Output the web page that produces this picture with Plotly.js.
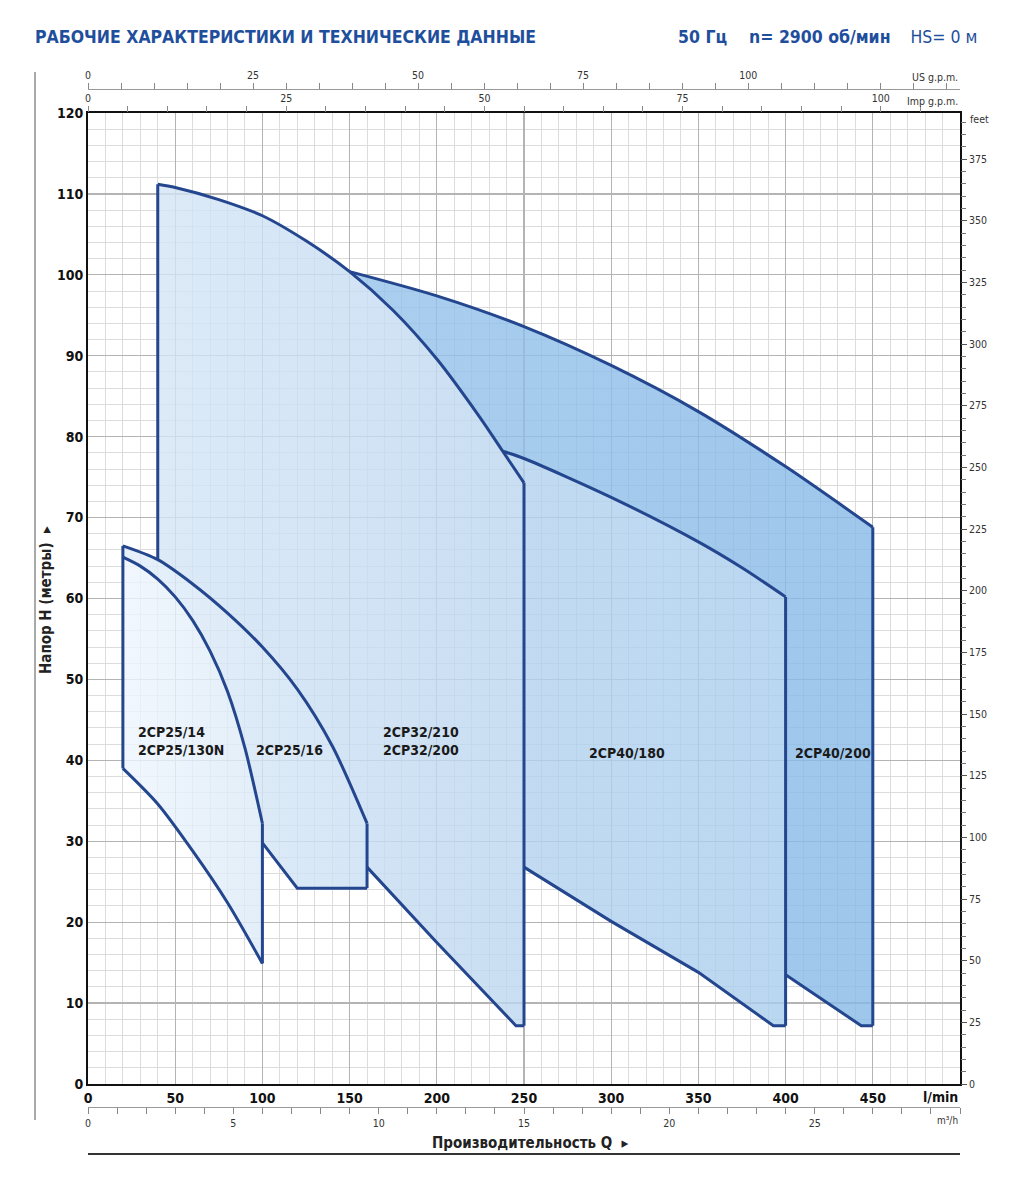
<!DOCTYPE html>
<html>
<head>
<meta charset="utf-8">
<script src="https://cdn.plot.ly/plotly-3.0.1.min.js"></script>
<style>
  html, body { margin: 0; padding: 0; background: #fff; }
  #plot { width: 1024px; height: 1202px; }
</style>
</head>
<body>
<div id="plot"></div>
<script>
const FONT = '"DejaVu Sans Condensed", "Liberation Sans Narrow", "DejaVu Sans", sans-serif';
const EDGE = '#23468e';

// Q in l/min, H in metres
// 2CP32/210 - 2CP32/200 upper curve
const curve32Q = [40, 50, 75, 100, 125, 150, 175, 200, 225, 237.8, 250];
const curve32H = [111.2, 110.8, 109.3, 107.3, 104.2, 100.4, 95.6, 89.6, 82.3, 78.2, 74.3];
const bottom32Q = [160, 200, 245.4, 250];
const bottom32H = [26.8, 17.5, 7.2, 7.2];

// 2CP40/180
const curve40aQ = [237.8, 250, 300, 350, 375, 400];
const curve40aH = [78.2, 77.3, 72.5, 67.0, 63.8, 60.2];
const bottom40aQ = [250, 300, 350, 393, 400];
const bottom40aH = [26.8, 20.1, 13.8, 7.2, 7.2];

// 2CP40/200
const curve40bQ = [150, 200, 250, 300, 350, 400, 450];
const curve40bH = [100.4, 97.4, 93.6, 88.8, 83.1, 76.3, 68.8];
const bottom40bQ = [400, 443.4, 450];
const bottom40bH = [13.5, 7.2, 7.2];

// 2CP25/16
const curve16Q = [20, 40, 60, 80, 100, 120, 140, 160];
const curve16H = [66.5, 64.8, 61.8, 58.2, 54.0, 48.8, 41.8, 32.2];
const bottom16Q = [100, 120, 160];
const bottom16H = [29.8, 24.2, 24.2];

// 2CP25/14 - 2CP25/130N
const curve14Q = [20, 30, 40, 50, 60, 70, 80, 90, 100];
const curve14H = [65.1, 64.0, 62.4, 60.2, 57.3, 53.5, 48.5, 41.5, 32.2];
const bottom14Q = [20, 40, 60, 80, 100];
const bottom14H = [39.0, 34.6, 28.8, 22.4, 14.9];

const models = ['2CP25/14<br>2CP25/130N', '2CP25/16', '2CP32/210<br>2CP32/200', '2CP40/180', '2CP40/200'];

const lpmTicks = [0, 50, 100, 150, 200, 250, 300, 350, 400, 450];
const m3hTicks = [0, 5, 10, 15, 20, 25];
const gpmTicks = [0, 25, 50, 75, 100];
const feetTicks = [0, 25, 50, 75, 100, 125, 150, 175, 200, 225, 250, 275, 300, 325, 350, 375];

// unit conversions for the secondary scales
const LPM_MAX = 500;
const H_MAX = 120;
const M3H_MAX = LPM_MAX * 60 / 1000;
const USGPM_MAX = LPM_MAX / 3.78541;
const IMPGPM_MAX = LPM_MAX / 4.54609;
const FEET_MAX = H_MAX / 0.3048;

const rev = a => a.slice().reverse();
const last = a => a[a.length - 1];
const steps = (from, to, step) => { const out = []; for (let v = from; v <= to + 1e-9; v += step) out.push(v); return out; };

// visible polygons of each field, built from the curves
const k16 = curve16Q.map((q, i) => q >= 40 ? i : -1).filter(i => i >= 0);
const k32 = curve32Q.map((q, i) => (q >= 150 && q <= 237.8) ? i : -1).filter(i => i >= 0);
const k32end = curve32Q.map((q, i) => q >= 237.8 ? i : -1).filter(i => i >= 0);

const poly14 = {
  x: curve14Q.concat(rev(bottom14Q), [curve14Q[0]]),
  y: curve14H.concat(rev(bottom14H), [curve14H[0]]),
};
const poly16 = {
  x: curve16Q.concat(rev(bottom16Q), rev(curve14Q), [curve16Q[0]]),
  y: curve16H.concat(rev(bottom16H), rev(curve14H), [curve16H[0]]),
};
const poly32 = {
  x: curve32Q.concat(rev(bottom32Q), rev(k16).map(i => curve16Q[i]), [curve32Q[0]]),
  y: curve32H.concat(rev(bottom32H), rev(k16).map(i => curve16H[i]), [curve32H[0]]),
};
const poly40a = {
  x: curve40aQ.concat(rev(bottom40aQ), rev(k32end).map(i => curve32Q[i])),
  y: curve40aH.concat(rev(bottom40aH), rev(k32end).map(i => curve32H[i])),
};
const poly40b = {
  x: curve40bQ.concat(rev(bottom40bQ), rev(curve40aQ), rev(k32).map(i => curve32Q[i])),
  y: curve40bH.concat(rev(bottom40bH), rev(curve40aH), rev(k32).map(i => curve32H[i])),
};

function field(poly, c1, c2) {
  return {
    x: poly.x, y: poly.y,
    mode: 'lines', fill: 'toself',
    fillcolor: c2,
    fillgradient: { type: 'horizontal', colorscale: [[0, c1], [1, c2]] },
    line: { width: 0, color: 'rgba(0,0,0,0)' },
    hoverinfo: 'skip', showlegend: false,
  };
}

function edge(xs, ys, shape) {
  return {
    x: xs, y: ys, mode: 'lines',
    line: { color: EDGE, width: 3, shape: shape || 'linear', smoothing: 0.8 },
    hoverinfo: 'skip', showlegend: false,
  };
}

const i40on16 = curve16Q.indexOf(40);

const data = [
  field(poly40b, 'rgba(149,194,234,0.8)', 'rgba(134,185,231,0.8)'),
  field(poly40a, 'rgba(179,210,239,0.8)', 'rgba(169,205,237,0.8)'),
  field(poly32, 'rgba(212,229,246,0.8)', 'rgba(188,214,239,0.8)'),
  field(poly16, 'rgba(224,237,249,0.8)', 'rgba(202,223,243,0.8)'),
  field(poly14, 'rgba(238,245,253,0.8)', 'rgba(219,234,247,0.8)'),

  // outlines
  edge(curve32Q, curve32H, 'spline'),
  edge(curve40aQ, curve40aH, 'spline'),
  edge(curve40bQ, curve40bH, 'spline'),
  edge(curve16Q, curve16H, 'spline'),
  edge(curve14Q, curve14H, 'spline'),
  edge(bottom14Q, bottom14H, 'spline'),
  edge(bottom16Q, bottom16H),
  edge(bottom32Q, bottom32H),
  edge(bottom40aQ, bottom40aH),
  edge(bottom40bQ, bottom40bH),
  edge([curve32Q[0], curve32Q[0]], [curve16H[i40on16], curve32H[0]]),
  edge([curve16Q[0], curve16Q[0]], [bottom14H[0], curve16H[0]]),
  edge([last(curve14Q), last(curve14Q)], [last(bottom14H), last(curve14H)]),
  edge([last(curve16Q), last(curve16Q)], [last(bottom16H), last(curve16H)]),
  edge([last(curve32Q), last(curve32Q)], [last(bottom32H), last(curve32H)]),
  edge([last(curve40aQ), last(curve40aQ)], [last(bottom40aH), last(curve40aH)]),
  edge([last(curve40bQ), last(curve40bQ)], [last(bottom40bH), last(curve40bH)]),

  // empty traces so the secondary scales are drawn
  { x: [], y: [], xaxis: 'x2', yaxis: 'y', showlegend: false },
  { x: [], y: [], xaxis: 'x3', yaxis: 'y', showlegend: false },
  { x: [], y: [], xaxis: 'x4', yaxis: 'y', showlegend: false },
  { x: [], y: [], xaxis: 'x', yaxis: 'y2', showlegend: false },
];

const small = { family: FONT, size: 10.5, color: '#333' };
const bold = { family: FONT, size: 14, color: '#111' };
const labelFont = { family: FONT, size: 14, color: '#1a1a1a' };
const blue = '#1f4f9c';

// paper y: 0 at pixel 1162, 1 at pixel 60
const py = p => (1162 - p) / 1102;
const px = p => (p - 88) / 872;

const layout = {
  width: 1024, height: 1202,
  margin: { l: 88, r: 64, t: 60, b: 40 },
  paper_bgcolor: '#fff', plot_bgcolor: '#fff',
  showlegend: false,
  font: { family: FONT, color: '#222' },
  xaxis: {
    range: [0, LPM_MAX], anchor: 'y',
    tickmode: 'array', tickvals: lpmTicks, ticktext: lpmTicks.map(v => '<b>' + v + '</b>'),
    tickfont: bold, ticks: '',
    showgrid: true, gridcolor: '#b4b4b4', gridwidth: 1.3,
    minor: { tickmode: 'array', tickvals: steps(0, 500, 10), showgrid: true, gridcolor: '#dcdcdc', gridwidth: 1 },
    showline: true, linecolor: '#111', linewidth: 2, mirror: true,
    zeroline: false, fixedrange: true,
  },
  yaxis: {
    range: [0, H_MAX], domain: [py(1084), py(113)], anchor: 'x',
    tickmode: 'array', tickvals: steps(0, 120, 10), ticktext: steps(0, 120, 10).map(v => '<b>' + v + '</b>'),
    tickfont: bold, ticks: '',
    showgrid: true, gridcolor: '#b4b4b4', gridwidth: 1.3,
    minor: { tickmode: 'array', tickvals: steps(0, 120, 2), showgrid: true, gridcolor: '#dcdcdc', gridwidth: 1 },
    showline: true, linecolor: '#111', linewidth: 2, mirror: true,
    zeroline: false, fixedrange: true,
  },
  yaxis2: {
    overlaying: 'y', side: 'right', anchor: 'x',
    range: [0, FEET_MAX],
    tickmode: 'array', tickvals: feetTicks,
    ticks: 'outside', ticklen: 6, tickcolor: '#555', tickfont: small,
    minor: { tickmode: 'array', tickvals: steps(0, 390, 5), ticks: 'outside', ticklen: 5, tickcolor: '#777' },
    showgrid: false, zeroline: false, showline: false, fixedrange: true,
  },
  xaxis2: {
    overlaying: 'x', anchor: 'free', position: py(1107), side: 'bottom',
    range: [0, M3H_MAX],
    tickmode: 'array', tickvals: m3hTicks,
    ticks: 'outside', ticklen: 6, tickcolor: '#888', tickfont: small,
    minor: { tickmode: 'array', tickvals: steps(0, 30, 1), ticks: 'outside', ticklen: 6, tickcolor: '#888' },
    showline: true, linecolor: '#999', linewidth: 1,
    showgrid: false, zeroline: false, fixedrange: true,
  },
  xaxis3: {
    overlaying: 'x', anchor: 'y', side: 'top',
    range: [0, IMPGPM_MAX],
    tickmode: 'array', tickvals: gpmTicks,
    ticks: 'outside', ticklen: 6, tickcolor: '#888', tickfont: small,
    minor: { tickmode: 'array', tickvals: steps(0, 105, 5), ticks: 'outside', ticklen: 6, tickcolor: '#888' },
    showline: false, showgrid: false, zeroline: false, fixedrange: true,
  },
  xaxis4: {
    overlaying: 'x', anchor: 'free', position: py(89), side: 'top',
    range: [0, USGPM_MAX],
    tickmode: 'array', tickvals: gpmTicks,
    ticks: 'outside', ticklen: 6, tickcolor: '#888', tickfont: small,
    minor: { tickmode: 'array', tickvals: steps(0, 130, 5), ticks: 'outside', ticklen: 6, tickcolor: '#888' },
    showline: true, linecolor: '#999', linewidth: 1,
    showgrid: false, zeroline: false, fixedrange: true,
  },
  annotations: [
    { text: '<b>РАБОЧИЕ ХАРАКТЕРИСТИКИ И ТЕХНИЧЕСКИЕ ДАННЫЕ</b>', xref: 'paper', yref: 'paper',
      x: px(33), y: py(37), xanchor: 'left', yanchor: 'middle', showarrow: false,
      font: { family: FONT, size: 17.5, color: blue } },
    { text: '<b>50 Гц\u00a0\u00a0\u00a0\u00a0n= 2900 об/мин</b>\u00a0\u00a0\u00a0\u00a0HS= 0 м', xref: 'paper', yref: 'paper',
      x: px(979), y: py(37), xanchor: 'right', yanchor: 'middle', showarrow: false,
      font: { family: FONT, size: 17.5, color: blue } },
    { text: 'US g.p.m.', xref: 'paper', yref: 'paper', x: 1, y: py(77), xanchor: 'right', yanchor: 'middle',
      showarrow: false, font: small },
    { text: 'Imp g.p.m.', xref: 'paper', yref: 'paper', x: 1, y: py(101), xanchor: 'right', yanchor: 'middle',
      showarrow: false, font: small },
    { text: 'feet', xref: 'paper', yref: 'paper', x: 1, xshift: 8, y: py(119), xanchor: 'left', yanchor: 'middle',
      showarrow: false, font: small },
    { text: '<b>l/min</b>', xref: 'paper', yref: 'paper', x: 1, y: py(1097), xanchor: 'right', yanchor: 'middle',
      showarrow: false, font: bold },
    { text: 'm³/h', xref: 'paper', yref: 'paper', x: 1, y: py(1120), xanchor: 'right', yanchor: 'middle',
      showarrow: false, font: { family: FONT, size: 10, color: '#333' } },
    { text: '<b>Производительность Q  ▸</b>', xref: 'paper', yref: 'paper', x: px(530), y: py(1143),
      xanchor: 'center', yanchor: 'middle', showarrow: false, font: { family: FONT, size: 15, color: '#222' } },
    { text: '<b>Напор H (метры)  ▸</b>', xref: 'paper', yref: 'paper', x: px(46), y: py(600),
      xanchor: 'center', yanchor: 'middle', textangle: -90, showarrow: false,
      font: { family: FONT, size: 15, color: '#222' } },
    { text: '<b>' + models[0] + '</b>', x: 27.5, y: 42.4, xanchor: 'left', yanchor: 'middle', align: 'left',
      showarrow: false, font: labelFont },
    { text: '<b>' + models[1] + '</b>', x: 95, y: 41.3, xanchor: 'left', yanchor: 'middle', align: 'left',
      showarrow: false, font: labelFont },
    { text: '<b>' + models[2] + '</b>', x: 168, y: 42.4, xanchor: 'left', yanchor: 'middle', align: 'left',
      showarrow: false, font: labelFont },
    { text: '<b>' + models[3] + '</b>', x: 286, y: 40.9, xanchor: 'left', yanchor: 'middle', align: 'left',
      showarrow: false, font: labelFont },
    { text: '<b>' + models[4] + '</b>', x: 404.5, y: 40.9, xanchor: 'left', yanchor: 'middle', align: 'left',
      showarrow: false, font: labelFont },
  ],
  shapes: [
    { type: 'line', xref: 'paper', yref: 'paper', x0: px(35), x1: px(35), y0: py(72), y1: py(1120),
      line: { color: '#555', width: 1 } },
    { type: 'line', xref: 'paper', yref: 'paper', x0: 0, x1: 1, y0: py(1154), y1: py(1154),
      line: { color: '#333', width: 2 } },
  ],
};

Plotly.newPlot('plot', data, layout, { staticPlot: true, displayModeBar: false });
</script>
</body>
</html>
